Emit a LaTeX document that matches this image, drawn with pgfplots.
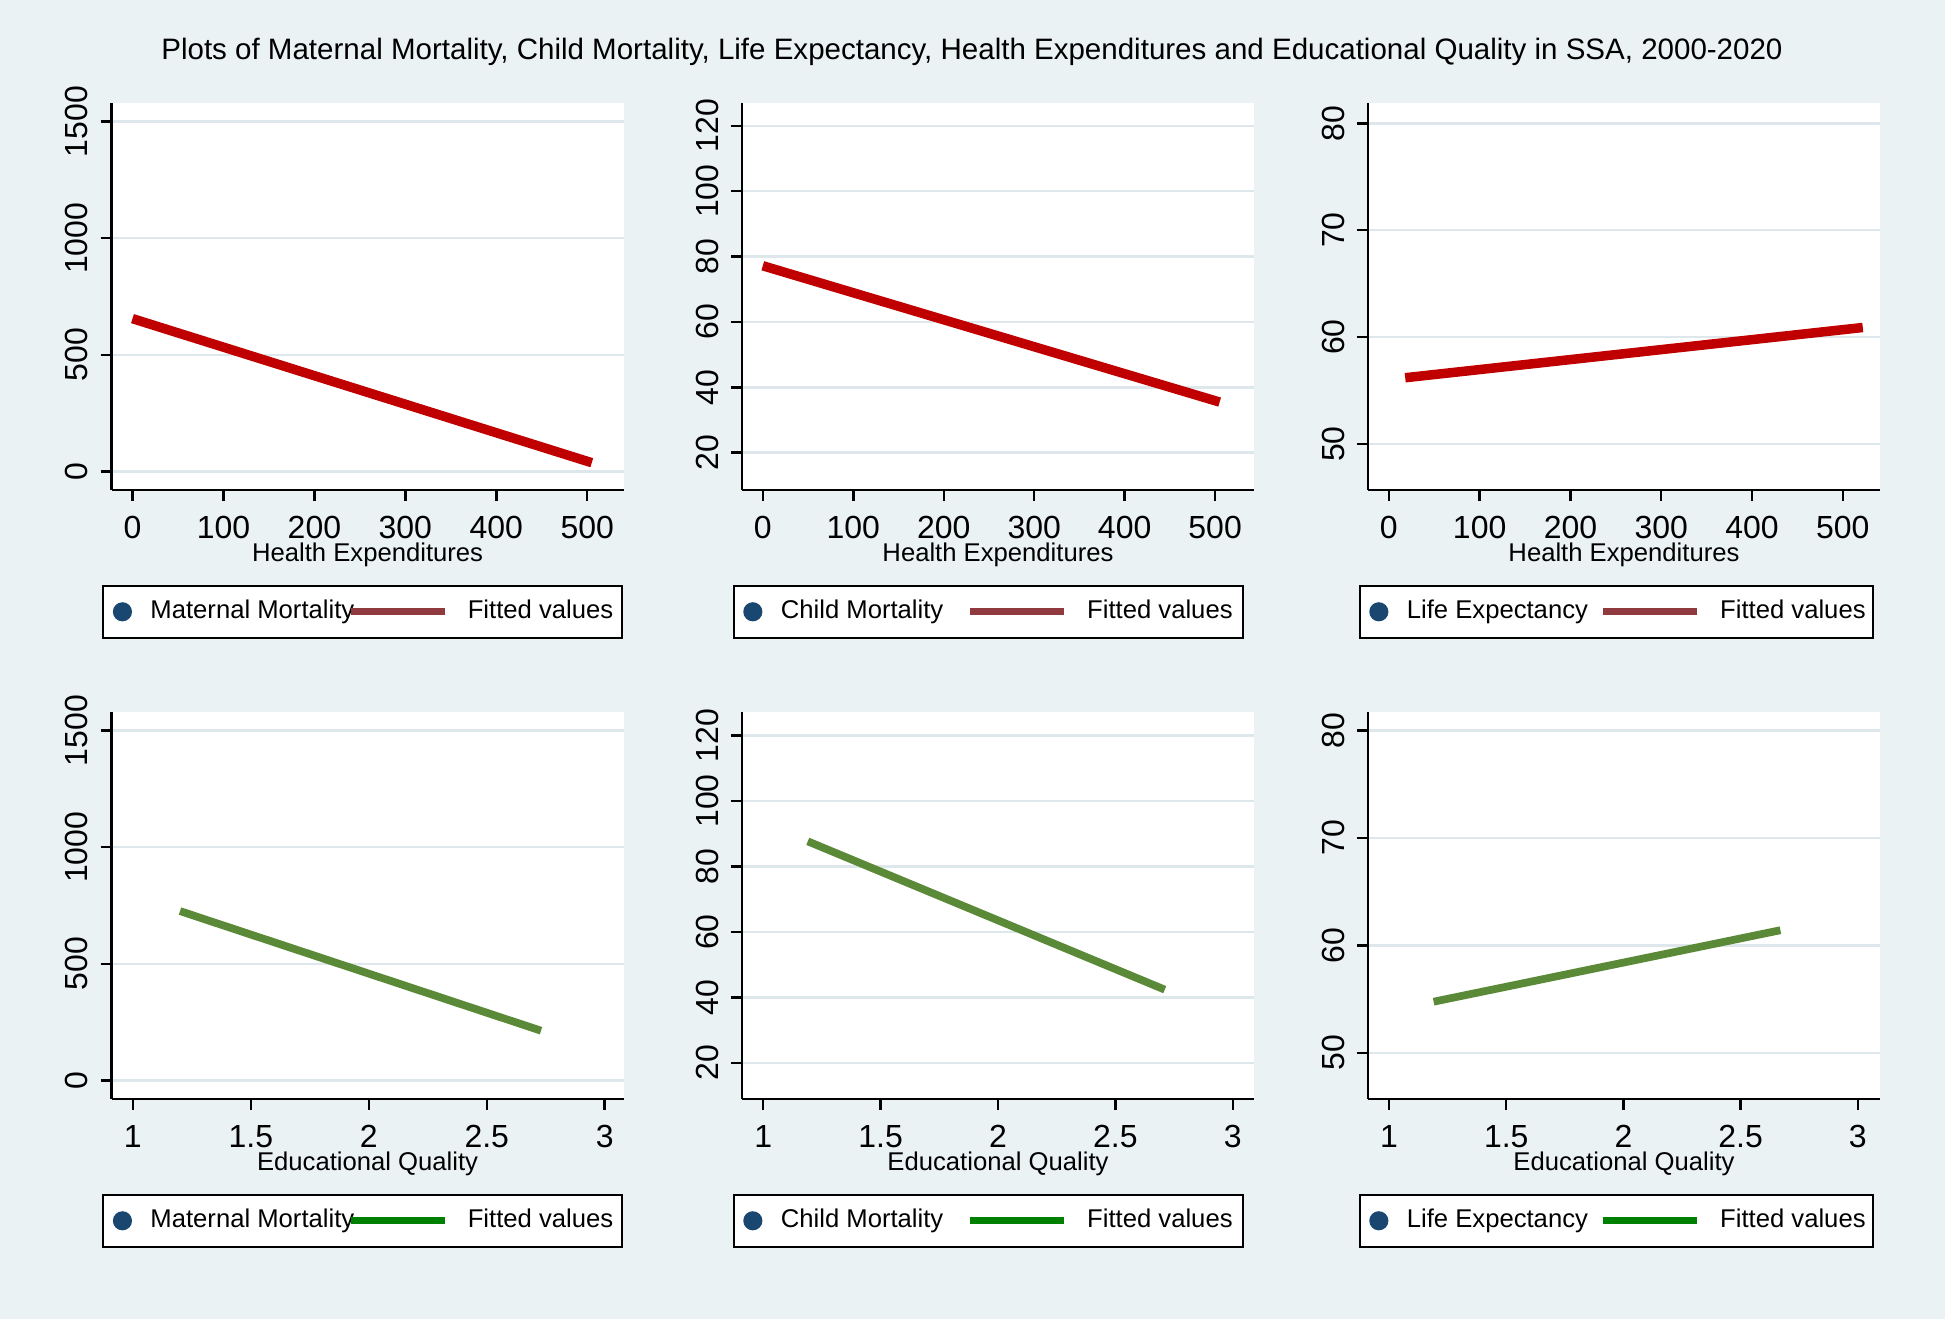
\documentclass[border=0pt]{standalone}
\usepackage{fontspec}
\setmainfont{Liberation Sans}
\usepackage{pgfplots}
\pgfplotsset{compat=1.18}
\definecolor{bgcol}{HTML}{EAF2F3}
\definecolor{gridcol}{HTML}{DDE7EC}
\definecolor{fitred}{HTML}{C00000}
\definecolor{legred}{HTML}{903A40}
\definecolor{fitgreen}{HTML}{5A8A38}
\definecolor{leggreen}{HTML}{008000}
\definecolor{dotblue}{HTML}{1A476F}

\pgfplotsset{
  panel/.style={
    scale only axis, width=5.12cm, height=3.87cm, anchor=south west,
    axis x line*=bottom, axis y line*=left,
    axis line style={-, line width=0.7pt, black},
    tick align=outside, major tick length=0.11cm,
    tick style={black, line width=0.7pt},
    ymajorgrids, grid style={gridcol, line width=0.7pt},
    axis background/.style={fill=white},
    ticklabel style={font=\fontsize{9.1}{11}\selectfont},
    /pgf/number format/assume math mode=true,
    /pgf/number format/1000 sep={},
    yticklabel style={rotate=90, anchor=south},
    xticklabel style={yshift=-0.03cm},
    xlabel style={font=\fontsize{7.3}{8}\selectfont, at={(axis description cs:0.5,0)}, anchor=center, yshift=-0.65cm},
    legend columns=2, legend cell align=left,
    legend style={at={(-0.018,-0.245)}, anchor=north west, draw=black, line width=0.6pt, fill=white,
      font=\fontsize{7.3}{8}\selectfont, inner xsep=0.06cm, inner ysep=0.14cm,
      column sep=0pt, nodes={inner sep=0pt}},
  },
  dotleg/.style={legend image code/.code={\fill[dotblue] (0.13cm,0) circle (0.085cm); \path[draw=none] (0,0) -- (0.41cm,0);}},
  lineleg/.style={legend image code/.code={\draw[#1, line width=1.9pt] (0,0) -- (0.94cm,0); \path[draw=none] (0,0) -- (1.17cm,0);}},
}

\begin{document}
\begin{tikzpicture}
\path[fill=bgcol, use as bounding box] (0,0) rectangle (19.45,13.19);
\node[font=\fontsize{8.4}{10}\selectfont] at (9.72,12.67) {Plots of Maternal Mortality, Child Mortality, Life Expectancy, Health Expenditures and Educational Quality in SSA, 2000-2020};

% row 1: health expenditures
\begin{axis}[panel, at={(1.116cm,8.29cm)}, xmin=-23, xmax=540, ymin=-80, ymax=1580,
  xtick={0,100,...,500}, ytick={0,500,1000,1500}, xlabel={Health Expenditures}]
\addlegendimage{dotleg}
\addlegendentry{\makebox[1.97cm][l]{Maternal Mortality}}
\addlegendimage{lineleg=legred}
\addlegendentry{\makebox[1.48cm][l]{Fitted values}}
\addplot[fitred, line width=2.7pt, forget plot] coordinates {(0,655) (505,37)};
\end{axis}

\begin{axis}[panel, at={(7.42cm,8.29cm)}, xmin=-23, xmax=543, ymin=8.6, ymax=127,
  xtick={0,100,...,500}, ytick={20,40,...,120}, xlabel={Health Expenditures}]
\addlegendimage{dotleg}
\addlegendentry{\makebox[1.86cm][l]{Child Mortality}}
\addlegendimage{lineleg=legred}
\addlegendentry{\makebox[1.50cm][l]{Fitted values}}
\addplot[fitred, line width=2.7pt, forget plot] coordinates {(0,77.2) (505,35.5)};
\end{axis}

\begin{axis}[panel, at={(13.68cm,8.29cm)}, xmin=-23, xmax=541, ymin=45.7, ymax=81.9,
  xtick={0,100,...,500}, ytick={50,60,70,80}, xlabel={Health Expenditures}]
\addlegendimage{dotleg}
\addlegendentry{\makebox[1.93cm][l]{Life Expectancy}}
\addlegendimage{lineleg=legred}
\addlegendentry{\makebox[1.47cm][l]{Fitted values}}
\addplot[fitred, line width=2.7pt, forget plot] coordinates {(18,56.2) (522,60.9)};
\end{axis}

% row 2: educational quality
\begin{axis}[panel, at={(1.116cm,2.20cm)}, xmin=0.91, xmax=3.08, ymin=-80, ymax=1580,
  xtick={1,1.5,2,2.5,3}, ytick={0,500,1000,1500}, xlabel={Educational Quality}]
\addlegendimage{dotleg}
\addlegendentry{\makebox[1.97cm][l]{Maternal Mortality}}
\addlegendimage{lineleg=leggreen}
\addlegendentry{\makebox[1.48cm][l]{Fitted values}}
\addplot[fitgreen, line width=2.2pt, forget plot] coordinates {(1.2,726) (2.73,213)};
\end{axis}

\begin{axis}[panel, at={(7.42cm,2.20cm)}, xmin=0.91, xmax=3.09, ymin=9, ymax=127.2,
  xtick={1,1.5,2,2.5,3}, ytick={20,40,...,120}, xlabel={Educational Quality}]
\addlegendimage{dotleg}
\addlegendentry{\makebox[1.86cm][l]{Child Mortality}}
\addlegendimage{lineleg=leggreen}
\addlegendentry{\makebox[1.50cm][l]{Fitted values}}
\addplot[fitgreen, line width=2.2pt, forget plot] coordinates {(1.19,87.7) (2.71,42.4)};
\end{axis}

\begin{axis}[panel, at={(13.68cm,2.20cm)}, xmin=0.91, xmax=3.095, ymin=45.7, ymax=81.7,
  xtick={1,1.5,2,2.5,3}, ytick={50,60,70,80}, xlabel={Educational Quality}]
\addlegendimage{dotleg}
\addlegendentry{\makebox[1.93cm][l]{Life Expectancy}}
\addlegendimage{lineleg=leggreen}
\addlegendentry{\makebox[1.47cm][l]{Fitted values}}
\addplot[fitgreen, line width=2.2pt, forget plot] coordinates {(1.19,54.75) (2.67,61.4)};
\end{axis}
\end{tikzpicture}
\end{document}
